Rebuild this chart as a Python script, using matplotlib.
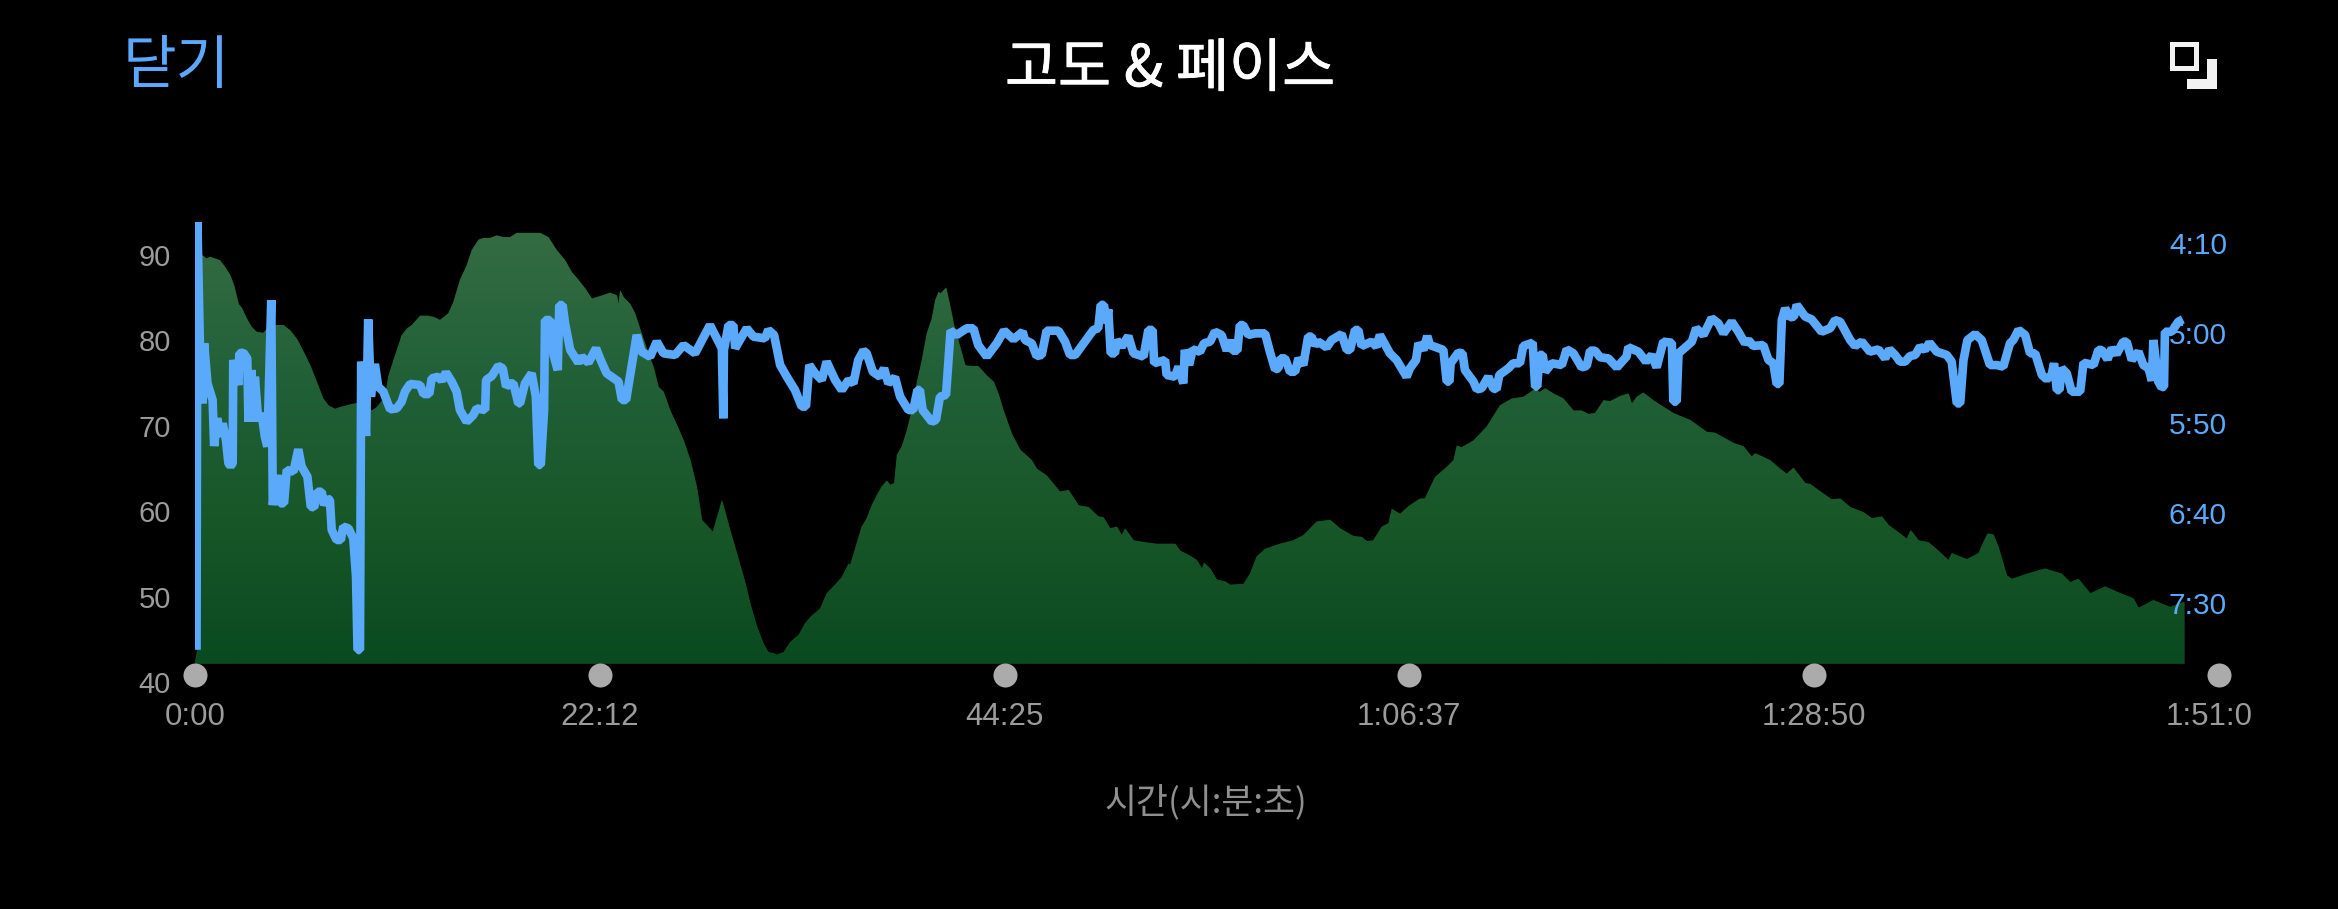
import numpy as np
import matplotlib
matplotlib.use("Agg")
import matplotlib.pyplot as plt
import matplotlib.patheffects as pe
from matplotlib.colors import LinearSegmentedColormap
from matplotlib.patches import Rectangle, Polygon
from matplotlib.transforms import ScaledTranslation

# Elevation profile: elapsed seconds and metres
elev_time = [0, 11, 19, 23, 38, 49, 66, 82, 99, 115, 128, 143, 154, 170, 186, 203, 225, 241, 269, 291,
             313, 335, 357, 379, 400, 422, 439, 461, 477, 499, 521, 538, 582, 598, 625, 636, 653, 680, 697, 713,
             741, 768, 790, 806, 834, 850, 872, 894, 911, 933, 949, 971, 993, 1015, 1037, 1059, 1070, 1136, 1163, 1190,
             1218, 1240, 1262, 1284, 1306, 1333, 1366, 1388, 1394, 1399, 1410, 1432, 1448, 1470, 1492, 1509, 1525, 1542, 1564, 1586,
             1608, 1630, 1651, 1668, 1684, 1704, 1734, 1761, 1783, 1811, 1827, 1849, 1871, 1887, 1904, 1915, 1937, 1959, 1986, 2008,
             2030, 2057, 2079, 2101, 2129, 2151, 2156, 2172, 2194, 2211, 2227, 2244, 2260, 2277, 2288, 2301, 2310, 2326, 2343, 2359,
             2375, 2392, 2408, 2425, 2436, 2447, 2454, 2472, 2485, 2498, 2518, 2535, 2556, 2578, 2606, 2628, 2644, 2661, 2688, 2716,
             2754, 2770, 2803, 2847, 2875, 2908, 2941, 2973, 2990, 3012, 3034, 3050, 3061, 3089, 3122, 3165, 3226, 3242, 3270, 3297,
             3314, 3321, 3341, 3363, 3390, 3407, 3451, 3472, 3494, 3522, 3571, 3615, 3648, 3692, 3736, 3769, 3813, 3840, 3857, 3878,
             3906, 3928, 3939, 3966, 3994, 4032, 4048, 4081, 4120, 4142, 4153, 4169, 4208, 4251, 4295, 4334, 4372, 4405, 4427, 4444,
             4471, 4504, 4537, 4564, 4586, 4608, 4636, 4658, 4691, 4718, 4729, 4745, 4767, 4800, 4866, 4921, 4976, 5003, 5064, 5097,
             5124, 5135, 5184, 5217, 5239, 5261, 5300, 5316, 5343, 5387, 5415, 5448, 5491, 5519, 5552, 5574, 5612, 5634, 5647, 5673,
             5705, 5738, 5771, 5782, 5832, 5870, 5886, 5900, 5919, 5936, 5963, 5980, 6040, 6089, 6144, 6172, 6199, 6238, 6287, 6325,
             6380, 6397, 6446, 6501, 6547]
elevation = [42.4, 44.5, 79.7, 90.0, 89.6, 89.8, 89.6, 89.4, 88.6, 87.7, 86.5, 84.3, 83.8, 82.6, 81.6, 81.0, 80.9, 81.6, 81.8, 81.8,
             81.2, 80.2, 78.7, 77.1, 75.2, 73.2, 72.4, 72.0, 72.2, 72.4, 72.6, 72.7, 71.8, 72.2, 73.4, 75.8, 77.7, 80.6, 81.4, 81.8,
             82.9, 82.9, 82.7, 82.4, 83.2, 84.5, 87.1, 88.8, 90.6, 91.8, 92.0, 92.0, 92.3, 92.1, 92.1, 92.6, 92.6, 92.6, 92.1, 90.6,
             89.4, 88.0, 87.1, 86.1, 84.9, 85.2, 85.6, 85.3, 84.3, 85.9, 85.1, 84.3, 83.2, 80.8, 78.5, 76.9, 74.6, 74.0, 71.8, 70.1,
             68.3, 66.0, 62.9, 59.0, 58.4, 57.6, 61.3, 57.8, 55.1, 51.6, 49.2, 46.5, 44.5, 43.5, 43.4, 43.2, 43.5, 44.7, 45.5, 46.9,
             47.8, 48.6, 50.4, 51.2, 52.3, 53.9, 53.7, 55.6, 58.2, 59.2, 60.7, 61.9, 62.9, 63.6, 63.1, 63.3, 66.6, 67.6, 69.5, 71.8,
             75.0, 77.7, 80.8, 82.6, 84.7, 85.7, 85.5, 86.2, 84.1, 81.8, 79.3, 77.1, 77.0, 77.0, 75.9, 75.2, 73.8, 71.8, 69.1, 67.2,
             66.0, 65.0, 64.2, 62.3, 62.5, 60.7, 60.5, 59.4, 59.3, 58.0, 58.2, 57.2, 58.0, 56.6, 56.4, 56.2, 56.2, 55.4, 54.9, 54.3,
             53.3, 54.0, 53.3, 52.0, 51.8, 51.4, 51.5, 52.7, 54.7, 55.6, 56.2, 56.6, 57.2, 58.8, 59.0, 58.0, 57.1, 57.0, 56.5, 56.6,
             58.2, 58.6, 60.3, 59.7, 60.6, 61.5, 61.5, 64.0, 65.2, 66.0, 67.7, 67.5, 68.3, 69.9, 72.4, 73.2, 73.4, 74.2, 74.0, 74.4,
             73.8, 73.2, 71.8, 71.8, 71.4, 71.5, 73.0, 72.9, 73.5, 73.8, 72.6, 73.4, 73.9, 73.0, 71.5, 70.7, 69.3, 69.2, 68.0, 67.6,
             66.4, 66.8, 66.0, 65.0, 64.4, 65.1, 63.3, 63.2, 62.5, 61.4, 61.5, 60.5, 59.9, 59.2, 59.4, 58.4, 57.4, 56.8, 57.8, 56.6,
             56.4, 55.4, 54.3, 55.1, 54.4, 55.1, 56.4, 57.4, 57.3, 55.8, 52.5, 52.1, 52.8, 53.3, 52.7, 51.7, 52.1, 50.4, 51.2, 50.6,
             49.8, 48.7, 49.6, 48.8, 49.4]
elevation_floor = 42.2

# Pace: elapsed seconds and seconds per kilometre
pace_time = [5, 8, 16, 25, 30, 41, 58, 63, 73, 84, 91, 102, 110, 117, 124, 126, 143, 146, 159, 172,
             176, 186, 194, 197, 208, 219, 230, 238, 251, 256, 271, 280, 293, 302, 324, 340, 351, 370, 381, 392,
             403, 417, 425, 436, 444, 450, 466, 480, 488, 505, 521, 530, 535, 543, 547, 563, 570, 579, 592, 603,
             620, 642, 664, 680, 691, 708, 741, 752, 771, 779, 801, 812, 826, 845, 861, 872, 894, 916, 927, 955,
             958, 977, 998, 1013, 1024, 1037, 1048, 1064, 1070, 1086, 1108, 1122, 1130, 1138, 1149, 1152, 1169, 1180, 1194, 1199,
             1210, 1218, 1235, 1262, 1273, 1295, 1320, 1333, 1355, 1394, 1405, 1419, 1454, 1470, 1498, 1520, 1542, 1580, 1608, 1646,
             1695, 1734, 1739, 1741, 1756, 1772, 1778, 1816, 1838, 1876, 1887, 1906, 1926, 1948, 1975, 1997, 2011, 2022, 2041, 2063,
             2079, 2107, 2129, 2151, 2167, 2183, 2200, 2211, 2231, 2255, 2268, 2282, 2304, 2321, 2348, 2364, 2378, 2386, 2395, 2425,
             2439, 2452, 2472, 2487, 2507, 2540, 2562, 2578, 2606, 2639, 2663, 2694, 2724, 2732, 2754, 2770, 2787, 2803, 2842, 2864,
             2880, 2897, 2957, 2973, 2981, 2992, 2999, 3006, 3014, 3028, 3034, 3050, 3072, 3089, 3122, 3138, 3152, 3157, 3193, 3198,
             3226, 3237, 3253, 3258, 3272, 3284, 3308, 3321, 3341, 3357, 3379, 3396, 3407, 3415, 3431, 3439, 3450, 3467, 3489, 3522,
             3538, 3555, 3566, 3573, 3588, 3604, 3621, 3632, 3648, 3664, 3675, 3686, 3697, 3725, 3741, 3774, 3791, 3802, 3818, 3829,
             3840, 3873, 3889, 3900, 3933, 3955, 3988, 3999, 4019, 4027, 4043, 4056, 4065, 4109, 4120, 4129, 4133, 4158, 4172, 4180,
             4208, 4219, 4235, 4257, 4273, 4284, 4293, 4323, 4339, 4361, 4372, 4403, 4411, 4418, 4425, 4436, 4444, 4466, 4499, 4515,
             4537, 4564, 4581, 4592, 4608, 4625, 4652, 4680, 4712, 4718, 4751, 4776, 4795, 4811, 4833, 4861, 4866, 4877, 4883, 4927,
             4941, 4965, 4992, 5014, 5031, 5058, 5080, 5102, 5113, 5129, 5162, 5179, 5195, 5206, 5215, 5223, 5234, 5250, 5263, 5272,
             5300, 5321, 5354, 5382, 5398, 5415, 5448, 5464, 5486, 5513, 5541, 5563, 5577, 5596, 5612, 5629, 5645, 5662, 5678, 5694,
             5709, 5733, 5766, 5782, 5799, 5810, 5821, 5834, 5859, 5881, 5908, 5930, 5952, 5974, 5985, 6002, 6024, 6040, 6057, 6079,
             6095, 6111, 6119, 6128, 6137, 6144, 6161, 6177, 6205, 6216, 6249, 6265, 6276, 6295, 6309, 6325, 6347, 6358, 6375, 6397,
             6413, 6430, 6441, 6446, 6462, 6473, 6481, 6484, 6506, 6528, 6543]
pace = [476, 238.5, 305.7, 339.1, 305.7, 328, 337.2, 362.8, 347.4, 357.6, 350.2, 359.5, 372.4, 373.9, 372.4, 315, 328.9, 311.3, 310.9, 314.1,
        349.3, 320.6, 349.3, 324.3, 348.3, 344.6, 357.6, 363.1, 281.7, 395.6, 378.9, 394.6, 394.6, 376.1, 377, 364.6, 374.3, 379.8, 396.5, 396.9,
        388.2, 388.2, 395.6, 391.9, 392.8, 409.4, 415, 415, 407.6, 408.5, 414.1, 435.4, 476.1, 476.1, 315.9, 357.2, 292.4, 335.4, 317.2, 329.8,
        332.6, 342.4, 341.9, 338.2, 332.6, 328.3, 328.9, 333.9, 333.9, 325.2, 324.3, 326.5, 321.9, 327, 332.6, 342.8, 349.3, 345.6, 341.9, 342.8,
        326.1, 323.9, 318.3, 319.6, 329.8, 328, 328, 339.1, 339, 328, 322.4, 335.4, 373.3, 373.3, 342.8, 292.8, 292.8, 312.2, 320.6, 284.5,
        284.5, 294.6, 309.4, 316.5, 313.2, 316.5, 308.5, 314.1, 322.4, 327, 337.2, 337.2, 301.1, 310.4, 313.2, 304.8, 311.3, 312.2, 306.7, 311.3,
        295.6, 308.5, 347.4, 309.4, 295.6, 295.6, 308.5, 297.4, 302, 303, 298.3, 301.1, 317.8, 324.3, 331.7, 340.9, 340.9, 317.8, 322.4, 326.1,
        315.9, 326.1, 331.7, 326.1, 328, 315, 309.8, 311.3, 321.5, 324.3, 319.6, 328, 324.6, 335.4, 342.8, 342.8, 331.7, 331.7, 342.8, 349.3,
        348.3, 335.4, 334.4, 298.7, 301.1, 297.4, 297.4, 306.7, 313.1, 305.7, 298.7, 303.5, 299.3, 303.9, 305.7, 312.8, 312.2, 298.7, 298.7, 304.8,
        312.2, 312.2, 298.3, 297.4, 284.4, 284.4, 294.6, 286.8, 311.3, 311.3, 303.9, 307.6, 301.7, 311.3, 313.1, 298.3, 298.3, 316.8, 315, 323.3,
        324.3, 318.7, 328, 309.4, 317.8, 309.1, 310.4, 305.7, 304.8, 299.3, 301.1, 309.8, 303.9, 309.8, 309.8, 295.6, 295.6, 301.1, 300.2, 300.2,
        310.4, 320.2, 319.6, 314.1, 314.1, 321.5, 321.5, 314.1, 317.8, 302, 302, 306.7, 304.8, 308, 303.9, 300.6, 309.4, 309.4, 298.3, 298.3,
        307.2, 304.8, 307.6, 301.1, 311.3, 315, 324.3, 319.6, 315, 305.7, 309.4, 301.7, 306.7, 309.4, 327, 327, 316.8, 310.9, 311.3, 320.6,
        327, 331.3, 330.7, 324.3, 330.7, 331.3, 323.3, 319.6, 316.8, 316.8, 307.2, 305.4, 329.8, 329.8, 312.2, 312.2, 321.5, 316.8, 317.8, 309.1,
        311.3, 319.1, 318.3, 309.8, 309.8, 313.5, 314.1, 319.1, 313.1, 307.9, 310.4, 315.9, 312.2, 319.1, 304.8, 305.4, 338.1, 338.1, 311.3, 304.8,
        297.4, 301.1, 291.8, 294.6, 300.2, 293.7, 299.3, 305.7, 303.9, 307.2, 306.7, 315, 316.8, 328.3, 328.3, 292.8, 286.3, 291.3, 290.9, 284.4,
        290.9, 292.4, 299.3, 297.4, 292.8, 293.7, 303.9, 307.2, 304.8, 310.4, 309.1, 314.1, 309.1, 312.2, 315.9, 315.9, 312.8, 312.2, 307.6, 309.4,
        305.4, 310.4, 312.2, 315.9, 339.1, 339.1, 315, 303.9, 300.6, 303.9, 317.8, 317.8, 318.7, 305.7, 303.9, 298.3, 301.1, 311.3, 311.3, 323.3,
        325.7, 323.3, 316.8, 331.7, 331.7, 319.6, 322.4, 332.6, 332.6, 316.5, 317.8, 309.4, 309.4, 314.6, 308.5, 311.7, 304.8, 304.8, 315, 310.4,
        317.8, 319.6, 326.5, 303.9, 327, 330.2, 329.8, 299.3, 299.3, 293.7, 292.4]

# Axis ticks and their labels
time_ticks = [0, 1332, 2665, 3997, 5330, 6662]
time_labels = ["0:00", "22:12", "44:25", "1:06:37", "1:28:50", "1:51:0"]
elev_ticks = [40, 50, 60, 70, 80, 90]
pace_ticks = [250, 300, 350, 400, 450]
pace_labels = ["4:10", "5:00", "5:50", "6:40", "7:30"]

W, H = 2338, 909
BLUE = "#5aa9fb"
GRAY = "#9b9b9b"
CJK = ["Noto Sans CJK KR", "DejaVu Sans"]
plt.rcParams["font.family"] = ["Liberation Sans", "Noto Sans CJK KR", "DejaVu Sans"]

fig = plt.figure(figsize=(W / 100, H / 100), dpi=100, facecolor="black")
ax = fig.add_axes([195 / W, (H - 682) / H, (2219 - 195) / W, (682 - 200) / H], facecolor="black")
ax.set_xlim(0, 6662)
ax.set_ylim(40, 96.44)

# Elevation area with a vertical gradient clipped to its outline
area = ax.fill_between(elev_time, elevation, elevation_floor, color="#14532a", linewidth=0, zorder=1)
ramp = LinearSegmentedColormap.from_list("elev", ["#0a4a20", "#175728", "#226138", "#346c42"])
grad = ax.imshow(np.linspace(1, 0, 256)[:, None], cmap=ramp, aspect="auto",
                 extent=(0, 6662, elevation_floor, 93), zorder=1.1, interpolation="bilinear")
grad.set_clip_path(area.get_paths()[0], transform=ax.transData)
ax.set_xlim(0, 6662)
ax.set_ylim(40, 96.44)

for s in ax.spines.values():
    s.set_visible(False)
ax.set_xticks(time_ticks, time_labels)
ax.set_yticks(elev_ticks)
ax.tick_params(axis="x", length=0, pad=14.5, labelsize=22.5, labelcolor=GRAY)
ax.tick_params(axis="y", length=0, pad=17.3, labelsize=21, labelcolor=GRAY)

# The last time label is nudged left so it stays inside the margin
last_label = ax.get_xticklabels()[-1]
last_label.set_transform(last_label.get_transform() + ScaledTranslation(-0.1, 0, fig.dpi_scale_trans))

# Round markers sitting just under the area, one per time tick
ax.plot(time_ticks, [0.0145] * len(time_ticks), "o", ms=17.3, mec="none", color="#ababab",
        transform=ax.get_xaxis_transform(), clip_on=False, zorder=3)

# Pace on an inverted right-hand scale; its labels sit inside the plot area
pax = ax.twinx()
pax.set_ylim(493.9, 226.1)
pax.set_xlim(0, 6662)
for s in pax.spines.values():
    s.set_visible(False)
pax.patch.set_visible(False)
pax.set_yticks(pace_ticks, pace_labels)
pax.tick_params(axis="y", length=0, pad=-36, labelsize=21.5, labelcolor=BLUE)
pax.plot(pace_time, pace, color=BLUE, lw=6.2, solid_joinstyle="bevel", solid_capstyle="butt", zorder=3)

# Header and axis caption
title = fig.text(1170 / W, 1 - 70 / H, "고도 & 페이스", color="white", fontsize=41.5, family=CJK,
                 ha="center", va="center")
title.set_path_effects([pe.withStroke(linewidth=0.6, foreground="white")])
fig.text(176 / W, 1 - 67 / H, "닫기", color=BLUE, fontsize=42, family=CJK, ha="center", va="center")
fig.text(1206 / W, 1 - 803 / H, "시간(시:분:초)", color="#8f8f8f", fontsize=25, family=CJK, ha="center", va="center")

# Expand icon in the top right corner
ICON = "#f2f2f2"
fig.add_artist(Rectangle((2171.5 / W, 1 - 67.5 / H), 24 / W, 24 / H, transform=fig.transFigure,
                         fill=False, ec=ICON, lw=3.6, joinstyle="miter"))
corner = [(2207, 59), (2217, 59), (2217, 89), (2187, 89), (2187, 79), (2207, 79)]
fig.add_artist(Polygon([(x / W, 1 - y / H) for x, y in corner], closed=True, transform=fig.transFigure,
                       fc=ICON, ec="none"))

fig.savefig("out.png", dpi=100, facecolor="black")
